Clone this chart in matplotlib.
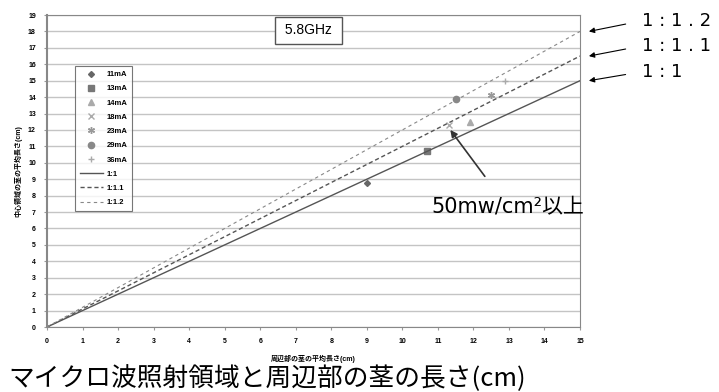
import matplotlib.pyplot as plt
import numpy as np

plt.rcParams['font.family'] = ['Liberation Sans', 'Noto Sans CJK JP', 'DejaVu Sans']

# measured points (periphery length, centre length)
series = ['11mA', '13mA', '14mA', '18mA', '23mA', '29mA', '36mA']
px = [9.0, 10.7, 11.9, 11.3, 12.5, 11.5, 12.9]
py = [8.8, 10.7, 12.5, 12.3, 14.1, 13.9, 15.0]
markers = ['D', 's', '^', 'x', (6, 2, 0), 'o', '+']
sizes = [3, 4.5, 4, 5, 5, 4.5, 5]
mcolors = ['#666666', '#777777', '#aaaaaa', '#aaaaaa', '#999999', '#888888', '#aaaaaa']

ratios = [1.0, 1.1, 1.2]
ratio_labels = ['1:1', '1:1.1', '1:1.2']
ratio_text = ['1 : 1', '1 : 1 . 1', '1 : 1 . 2']
xline = [0, 15]

fig = plt.figure(figsize=(7.19, 3.92), dpi=100)
ax = fig.add_axes([0.0654, 0.1658, 0.7413, 0.7959])

for s, x, y, m, ms, c in zip(series, px, py, markers, sizes, mcolors):
    ax.plot([x], [y], linestyle='none', marker=m, markersize=ms, color=c,
            markeredgewidth=1, label=s)

styles = [('-', '#555555', 1.0), ((0, (3, 2)), '#555555', 1.0), ((0, (3, 3)), '#888888', 0.8)]
for r, lab, (ls, c, lw) in zip(ratios, ratio_labels, styles):
    ax.plot(xline, [v * r for v in xline], linestyle=ls, color=c, linewidth=lw, label=lab)

ax.set_xlim(0, 15)
ax.set_ylim(0, 19)
ax.set_xticks(np.arange(0, 16, 1))
ax.set_yticks(np.arange(0, 20, 1))
ax.tick_params(labelsize=5, length=2, color='#999999', pad=6)
for lab in ax.get_xticklabels() + ax.get_yticklabels():
    lab.set_fontweight('bold')
ax.yaxis.grid(True, color='#c4c4c4', linewidth=1)
ax.set_axisbelow(True)
for sp in ax.spines.values():
    sp.set_color('#888888')
ax.spines['left'].set_linewidth(1.5)

ax.set_ylabel('中心領域の茎の平均長さ(cm)', fontsize=5, fontweight='bold', labelpad=4)
ax.set_xlabel('周辺部の茎の平均長さ(cm)', fontsize=5, fontweight='bold', labelpad=7)

leg = ax.legend(loc='upper left', bbox_to_anchor=(0.046, 0.848),
                frameon=True, fancybox=False, edgecolor='#555555', borderpad=0.6,
                labelspacing=0.9, handlelength=3.0, handletextpad=0.5,
                prop={'weight': 'bold', 'size': 5.5})
leg.get_frame().set_linewidth(0.8)

ax.text(0.49, 0.951, ' 5.8GHz ', transform=ax.transAxes, fontsize=10, ha='center',
        va='center', bbox=dict(boxstyle='square,pad=0.45', fc='white', ec='#555555', lw=1))

# ratio labels with arrows
label_y = [0.817, 0.883, 0.947]
for r, t, ly in zip(ratios, ratio_text, label_y):
    ax.annotate(t, xy=(15.25, 15 * r), xycoords='data', xytext=(0.893, ly),
                textcoords='figure fraction', fontsize=13, va='center', ha='left',
                family=['DejaVu Sans'], annotation_clip=False,
                arrowprops=dict(arrowstyle='-|>', color='black', lw=0.8,
                                shrinkA=10, shrinkB=0, mutation_scale=8,
                                relpos=(0, 0.5)))

ax.annotate('50mw/cm²以上', xy=(11.35, 12.0), xycoords='data', xytext=(0.706, 0.472),
            textcoords='figure fraction', fontsize=15, ha='center', va='center',
            family=['DejaVu Sans', 'Noto Sans CJK JP'],
            arrowprops=dict(arrowstyle='-|>', color='#333333', lw=1.2,
                            shrinkA=16, shrinkB=0, mutation_scale=10))

fig.text(0.011, 0.034, 'マイクロ波照射領域と周辺部の茎の長さ(cm)', fontsize=18.5,
         ha='left', va='center', family=['Noto Sans CJK JP'])

fig.savefig('out.png', dpi=100)
